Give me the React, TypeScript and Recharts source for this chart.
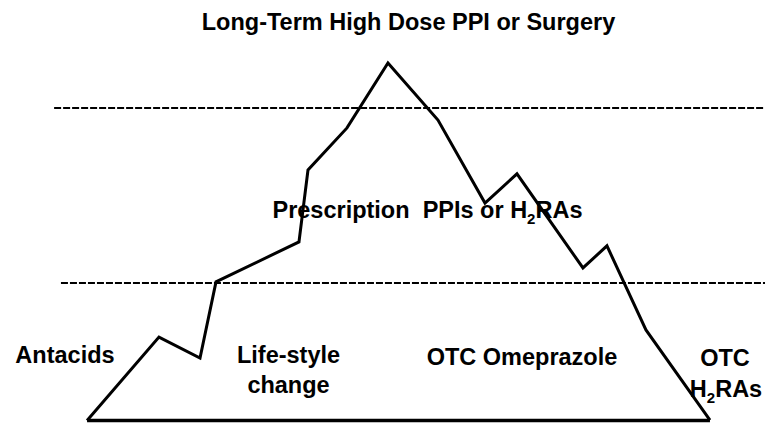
import React from "react";
import { LineChart, Line, XAxis, YAxis, ReferenceLine, ReferenceDot } from "recharts";

// Mountain outline: position along treatment axis and severity level
const pathX = [0, 11.56, 18.16, 20.73, 34.07, 35.52, 41.79, 48.38, 56.42, 63.98, 69.12, 79.73, 83.59, 89.86, 100.15];
const pathY = [0, 23.4, 17.5, 38.9, 50.1, 70.3, 82.1, 100.3, 84.3, 61.0, 69.2, 42.8, 49.0, 25.4, 0.1];

// Threshold levels (dashed) and their start positions
const upperLevel = 87.7;
const lowerLevel = 38.6;
const upperStart = -5.3;
const lowerStart = -4.2;
const levelEnd = 109;

// Baseline
const baseStart = 0;
const baseEnd = 100.15;

// Text annotations
const titleText = "Long-Term High Dose PPI or Surgery";
const middleText = ["Prescription  PPIs or H", "2", "RAs"];
const bottomTexts = ["Antacids", "Life-style", "change", "OTC Omeprazole", "OTC"];
const h2raText = ["H", "2", "RAs"];

// Anchor positions (data units) for the annotations
const titlePos = { x: 51.68, y: 109.6 };
const middlePos = { x: 54.73, y: 56.8 };
const bottomPos = [
  { x: -3.55, y: 16.1 },
  { x: 32.39, y: 16.1 },
  { x: 32.39, y: 7.7 },
  { x: 69.93, y: 15.6 },
  { x: 102.57, y: 15.3 },
];
const h2raPos = { x: 102.73, y: 6.6 };

const data = pathX.map((x, i) => ({ x, y: pathY[i] }));

const FONT = "'Liberation Sans', Arial, Helvetica, sans-serif";
const FS = 23.5;

const makeText = (content: React.ReactNode) => (props: any) => {
  const vb = props.viewBox || {};
  const x = (vb.x ?? 0) + (vb.width ?? 0) / 2;
  const y = (vb.y ?? 0) + (vb.height ?? 0) / 2;
  return (
    <text
      x={x}
      y={y}
      textAnchor="middle"
      fontFamily={FONT}
      fontWeight="bold"
      fontSize={FS}
      fill="#000"
      style={{ whiteSpace: "pre" }}
    >
      {content}
    </text>
  );
};

const sub = (parts: string[]) => (
  <>
    <tspan>{parts[0]}</tspan>
    <tspan fontSize={15} dy={6}>{parts[1]}</tspan>
    <tspan dy={-6}>{parts[2]}</tspan>
  </>
);

export default function App() {
  return (
    <div style={{ position: "absolute", left: 0, top: 0, background: "#fff" }}>
      <LineChart width={765} height={424} data={data} margin={{ top: 0, right: 0, bottom: 0, left: 0 }}>
        <XAxis type="number" dataKey="x" domain={[-14, 109]} allowDataOverflow hide />
        <YAxis type="number" domain={[-1, 118]} allowDataOverflow hide />
        <ReferenceLine
          segment={[{ x: upperStart, y: upperLevel }, { x: levelEnd, y: upperLevel }]}
          stroke="#000"
          strokeWidth={2}
          strokeDasharray="7 2"
        />
        <ReferenceLine
          segment={[{ x: lowerStart, y: lowerLevel }, { x: levelEnd, y: lowerLevel }]}
          stroke="#000"
          strokeWidth={2}
          strokeDasharray="7 2"
        />
        <ReferenceLine
          segment={[{ x: baseStart, y: 0 }, { x: baseEnd, y: 0 }]}
          stroke="#000"
          strokeWidth={3.5}
        />
        <Line
          type="linear"
          dataKey="y"
          stroke="#000"
          strokeWidth={3}
          strokeLinejoin="miter"
          dot={false}
          activeDot={false}
          isAnimationActive={false}
        />
        <ReferenceDot x={titlePos.x} y={titlePos.y} r={0} stroke="none" label={{ content: makeText(titleText) }} />
        <ReferenceDot x={middlePos.x} y={middlePos.y} r={0} stroke="none" label={{ content: makeText(sub(middleText)) }} />
        {bottomTexts.map((t, i) => (
          <ReferenceDot key={t} x={bottomPos[i].x} y={bottomPos[i].y} r={0} stroke="none" label={{ content: makeText(t) }} />
        ))}
        <ReferenceDot x={h2raPos.x} y={h2raPos.y} r={0} stroke="none" label={{ content: makeText(sub(h2raText)) }} />
      </LineChart>
    </div>
  );
}
